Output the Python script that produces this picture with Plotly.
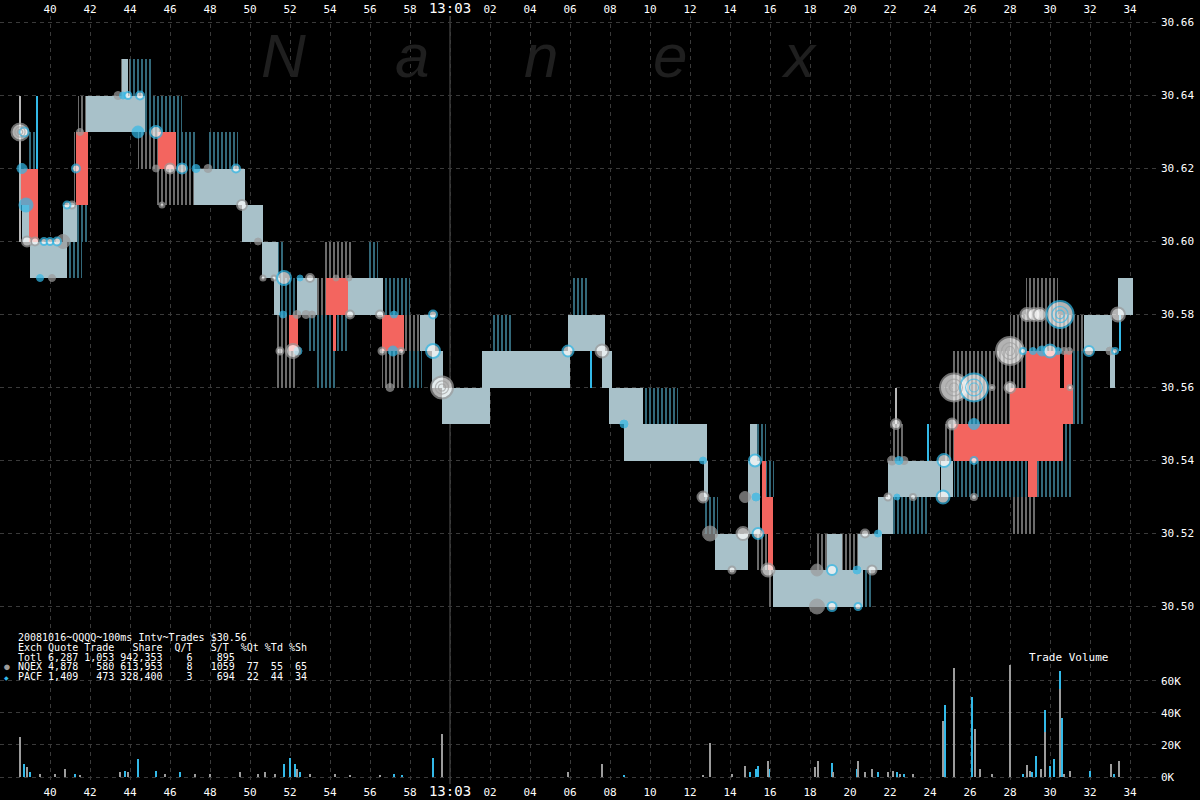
import numpy as np
import plotly.graph_objects as go

# ---------------- data ----------------
# time axis: seconds after 13:02:00
TICK_VALS = list(range(40, 95, 2))
TICK_TEXT = [("<span style='font-size:14px'>13:03</span>" if v == 60 else f"{v % 60:02d}") for v in TICK_VALS]
MINUTE_T = 60
PRICE_TICKS = [30.50, 30.52, 30.54, 30.56, 30.58, 30.60, 30.62, 30.64, 30.66]
VOL_TICKS = [0, 20, 40, 60]
VOL_TICK_TEXT = ["0K", "20K", "40K", "60K"]

# quote bands (t_start, t_end, low, high)
SOLID_BANDS = [
    (39.0, 40.85, 30.59, 30.60), (38.6, 38.95, 30.60, 30.61), (40.65, 41.35, 30.60, 30.61),
    (41.8, 44.75, 30.63, 30.64), (43.6, 43.9, 30.64, 30.65), (47.2, 49.75, 30.61, 30.62),
    (49.6, 50.65, 30.60, 30.61), (50.6, 51.4, 30.59, 30.60), (51.2, 51.5, 30.58, 30.59),
    (52.35, 53.35, 30.58, 30.59), (54.9, 56.65, 30.58, 30.59), (58.5, 59.25, 30.57, 30.58),
    (59.1, 59.65, 30.56, 30.57), (59.6, 62.0, 30.55, 30.56), (61.6, 66.0, 30.56, 30.57),
    (65.9, 67.75, 30.57, 30.58), (67.6, 68.1, 30.56, 30.57), (67.95, 69.65, 30.55, 30.56),
    (68.7, 72.85, 30.54, 30.55), (72.7, 72.9, 30.53, 30.54), (73.25, 74.9, 30.51, 30.52),
    (75.0, 75.35, 30.54, 30.55), (74.9, 75.5, 30.52, 30.54), (76.15, 80.65, 30.50, 30.51),
    (78.85, 79.6, 30.51, 30.52), (80.4, 81.6, 30.51, 30.52), (81.4, 82.15, 30.52, 30.53),
    (81.9, 84.5, 30.53, 30.54), (84.55, 85.15, 30.53, 30.54), (91.7, 93.1, 30.57, 30.58),
    (93.4, 94.15, 30.58, 30.59), (93.0, 93.25, 30.56, 30.57),
]
CYAN_BANDS = [
    (38.9, 39.3, 30.62, 30.63), (40.85, 41.6, 30.59, 30.60), (41.35, 41.9, 30.60, 30.61),
    (44.0, 45.15, 30.64, 30.65), (44.7, 46.6, 30.63, 30.64), (46.3, 47.3, 30.62, 30.63),
    (47.95, 49.4, 30.62, 30.63), (51.4, 51.65, 30.59, 30.60), (51.5, 52.35, 30.58, 30.59),
    (56.65, 58.0, 30.58, 30.59), (55.85, 56.4, 30.59, 30.60), (52.95, 54.85, 30.57, 30.58),
    (53.25, 54.3, 30.56, 30.57), (57.95, 58.6, 30.56, 30.57), (62.05, 63.15, 30.57, 30.58),
    (66.15, 66.9, 30.58, 30.59), (69.65, 71.4, 30.55, 30.56), (72.75, 73.4, 30.52, 30.53),
    (75.35, 75.8, 30.54, 30.55), (75.8, 76.2, 30.53, 30.54), (80.65, 81.1, 30.50, 30.51),
    (82.1, 83.9, 30.52, 30.53), (85.2, 88.9, 30.53, 30.54), (89.35, 91.15, 30.53, 30.54),
    (91.15, 91.75, 30.55, 30.56), (91.1, 91.7, 30.56, 30.57), (90.65, 91.15, 30.54, 30.55),
]
GRAY_BANDS = [
    (41.2, 41.5, 30.60, 30.63), (41.4, 41.8, 30.63, 30.64), (43.45, 44.0, 30.64, 30.65),
    (44.4, 45.4, 30.62, 30.63), (45.3, 47.2, 30.61, 30.62), (53.35, 53.8, 30.58, 30.59),
    (53.7, 55.05, 30.59, 30.60), (51.3, 52.35, 30.56, 30.58), (56.6, 57.65, 30.56, 30.57),
    (57.7, 58.5, 30.57, 30.58), (75.35, 75.85, 30.51, 30.52), (75.9, 76.15, 30.50, 30.51),
    (78.3, 78.85, 30.51, 30.52), (79.6, 80.4, 30.51, 30.52), (82.1, 82.65, 30.54, 30.55),
    (84.7, 85.2, 30.54, 30.55), (85.15, 88.0, 30.55, 30.57), (88.0, 88.8, 30.56, 30.58),
    (88.8, 91.65, 30.57, 30.58), (88.8, 90.4, 30.58, 30.59), (88.15, 89.35, 30.52, 30.53),
]
RED_BANDS = [
    (38.5, 39.4, 30.61, 30.62), (38.95, 39.4, 30.60, 30.61), (41.3, 41.9, 30.61, 30.63),
    (45.4, 46.3, 30.62, 30.63), (53.8, 54.9, 30.58, 30.59), (51.95, 52.4, 30.57, 30.58),
    (54.15, 54.3, 30.57, 30.58), (56.6, 57.7, 30.57, 30.58), (75.6, 75.8, 30.53, 30.54),
    (75.6, 76.15, 30.52, 30.53), (75.9, 76.15, 30.51, 30.52), (85.2, 90.65, 30.54, 30.55),
    (88.9, 89.35, 30.53, 30.54), (88.0, 91.15, 30.55, 30.56), (88.8, 90.5, 30.56, 30.57),
    (90.7, 91.1, 30.56, 30.57),
]
THIN_GRAY = [(38.5, 30.60, 30.64), (82.3, 30.55, 30.56)]
THIN_CYAN = [(39.35, 30.62, 30.64), (67.05, 30.56, 30.57), (83.9, 30.54, 30.55), (93.5, 30.57, 30.58)]

# trades (t, price, marker size px, kind) kind: G=NQEX open, C=PACF open, g=NQEX filled, c=PACF filled
TRADES = [
    (38.5, 30.63, 17, 'G'), (38.7, 30.63, 9, 'C'), (38.6, 30.62, 10, 'c'), (38.8, 30.61, 14, 'c'),
    (38.85, 30.60, 10, 'G'), (39.25, 30.60, 8, 'G'), (39.7, 30.60, 7, 'C'), (40.0, 30.60, 7, 'C'),
    (40.35, 30.60, 8, 'C'), (40.65, 30.60, 14, 'g'), (39.5, 30.59, 7, 'c'), (40.1, 30.59, 7, 'g'),
    (40.85, 30.61, 7, 'C'), (41.1, 30.61, 7, 'G'), (41.3, 30.62, 8, 'C'), (41.5, 30.63, 7, 'g'),
    (43.4, 30.64, 8, 'g'), (43.65, 30.64, 7, 'c'), (43.9, 30.64, 7, 'C'), (44.5, 30.64, 8, 'C'),
    (44.4, 30.63, 12, 'c'), (45.3, 30.63, 12, 'C'), (45.3, 30.62, 7, 'g'), (46.0, 30.62, 10, 'G'),
    (46.6, 30.62, 10, 'C'), (47.3, 30.62, 8, 'c'), (47.9, 30.62, 8, 'g'), (49.3, 30.62, 8, 'C'),
    (45.6, 30.61, 5, 'G'), (49.6, 30.61, 10, 'G'), (50.4, 30.60, 7, 'g'),
    (50.65, 30.59, 5, 'G'), (51.2, 30.59, 5, 'G'), (51.7, 30.59, 14, 'C'), (52.5, 30.59, 6, 'c'),
    (53.0, 30.59, 8, 'G'), (54.3, 30.59, 6, 'g'), (54.95, 30.59, 6, 'g'),
    (51.65, 30.58, 7, 'c'), (52.35, 30.58, 8, 'g'), (52.8, 30.58, 8, 'g'), (53.1, 30.58, 7, 'g'),
    (55.0, 30.58, 8, 'G'), (56.5, 30.58, 8, 'G'), (57.2, 30.58, 7, 'c'), (59.15, 30.58, 8, 'C'),
    (51.5, 30.57, 7, 'G'), (52.15, 30.57, 14, 'G'), (52.4, 30.57, 8, 'c'), (56.6, 30.57, 7, 'G'),
    (57.15, 30.57, 10, 'c'), (57.55, 30.57, 6, 'G'), (59.15, 30.57, 14, 'C'),
    (57.0, 30.56, 8, 'g'), (59.6, 30.56, 22, 'G'),
    (65.9, 30.57, 11, 'C'), (67.6, 30.57, 13, 'G'), (68.7, 30.55, 8, 'c'), (72.65, 30.54, 7, 'c'),
    (72.65, 30.53, 11, 'G'), (73.0, 30.52, 15, 'g'), (74.65, 30.52, 13, 'G'), (75.4, 30.52, 11, 'C'),
    (74.1, 30.51, 7, 'G'), (75.9, 30.51, 13, 'G'), (78.35, 30.51, 12, 'g'), (79.1, 30.51, 10, 'C'),
    (80.35, 30.51, 8, 'c'), (81.1, 30.51, 9, 'G'), (75.25, 30.54, 12, 'C'), (74.75, 30.53, 11, 'g'),
    (75.3, 30.53, 8, 'c'), (78.35, 30.50, 15, 'g'), (79.1, 30.50, 9, 'C'), (80.4, 30.50, 7, 'C'),
    (80.75, 30.52, 8, 'G'), (81.4, 30.52, 7, 'c'), (81.9, 30.53, 7, 'G'), (82.35, 30.53, 6, 'c'),
    (82.1, 30.54, 9, 'g'), (82.45, 30.54, 8, 'c'), (82.7, 30.54, 8, 'g'), (82.3, 30.55, 10, 'G'),
    (84.7, 30.54, 13, 'C'), (84.65, 30.53, 13, 'C'), (83.15, 30.53, 6, 'G'), (86.2, 30.53, 6, 'G'),
    (86.2, 30.54, 7, 'C'), (85.1, 30.55, 11, 'G'), (86.2, 30.55, 11, 'c'),
    (85.2, 30.56, 28, 'G'), (86.2, 30.56, 28, 'C'), (87.1, 30.56, 5, 'G'), (88.0, 30.56, 11, 'G'),
    (91.0, 30.56, 5, 'G'), (88.0, 30.57, 28, 'G'), (88.65, 30.57, 6, 'C'), (89.15, 30.57, 7, 'c'),
    (89.6, 30.57, 10, 'c'), (90.0, 30.57, 13, 'C'), (90.4, 30.57, 7, 'c'), (90.7, 30.57, 7, 'g'),
    (90.95, 30.57, 7, 'g'), (91.95, 30.57, 10, 'C'), (93.0, 30.57, 8, 'g'), (93.25, 30.57, 6, 'C'),
    (88.85, 30.58, 13, 'G'), (89.2, 30.58, 13, 'G'), (89.5, 30.58, 13, 'G'), (90.5, 30.58, 27, 'C'),
    (93.4, 30.58, 14, 'G'),
]

# trade volume per 100ms interval (t, thousands of shares)
VOL_NQEX = [
    (38.5, 25), (38.85, 6), (39.5, 2), (40.25, 2), (40.75, 5), (41.5, 1.5), (43.5, 3), (43.9, 3),
    (45.75, 2), (47.25, 2), (48.0, 2), (49.5, 3), (50.4, 2), (50.75, 3), (51.25, 2), (52.35, 5),
    (53.0, 2), (54.25, 2), (55.0, 1.5), (56.5, 1.5), (59.6, 27), (65.9, 3), (67.6, 8), (72.65, 1.5),
    (73.0, 21), (74.1, 2), (74.75, 7), (75.9, 10), (78.25, 6), (78.4, 10), (79.15, 3), (80.4, 10),
    (80.75, 3), (81.1, 5), (81.9, 3), (82.15, 4), (82.5, 2), (83.15, 2), (84.65, 35), (85.2, 68),
    (86.25, 30), (86.5, 5), (87.1, 2), (88.0, 70), (88.85, 7.5), (89.0, 4), (89.55, 5), (89.75, 28),
    (90.5, 55), (90.7, 2), (91.0, 4), (93.05, 8), (93.45, 10),
]
VOL_PACF = [
    (38.7, 8), (39.0, 3), (41.25, 2), (43.75, 4), (44.4, 11), (45.3, 4), (46.5, 3), (51.7, 8),
    (52.0, 12), (52.25, 8), (52.5, 3), (57.2, 2), (57.6, 1), (59.15, 12), (68.7, 1), (75.0, 3),
    (75.3, 5), (75.4, 7), (75.95, 5), (79.1, 9), (80.35, 5), (81.4, 3), (82.35, 3), (82.7, 2),
    (84.75, 45), (86.1, 50), (88.65, 2), (89.1, 3), (89.3, 13), (89.75, 42), (90.0, 7), (90.2, 11),
    (90.5, 66), (90.6, 37), (92.0, 4), (93.2, 2),
]

LEGEND_LINES = [
    "20081016~QQQQ~100ms Intv~Trades $30.56",
    "Exch Quote Trade   Share  Q/T   S/T  %Qt %Td %Sh",
    "Totl 6,287 1,053 942,353    6    895",
    "NQEX 4,878   580 613,953    8   1059  77  55  65",
    "PACF 1,409   473 328,400    3    694  22  44  34",
]

# ---------------- styling ----------------
W, H = 1200, 800
M_L, M_R, M_T, M_B = 0, 40, 16, 16
PX_PER_S = 20.0
T_LEFT = 37.5
PLOT_W = W - M_L - M_R
PLOT_H = H - M_T - M_B
SPLIT_PX = 640
PX_PER_DOLLAR = 3650.0
Y_3066 = 22.5
VOL_ZERO_PX = 777
PX_PER_K = 1.605

x_range = [T_LEFT, T_LEFT + PLOT_W / PX_PER_S]
price_top = 30.66 + (Y_3066 - M_T) / PX_PER_DOLLAR
price_bot = 30.66 - (SPLIT_PX - Y_3066) / PX_PER_DOLLAR
vol_top = (VOL_ZERO_PX - SPLIT_PX) / PX_PER_K
vol_bot = -(H - M_B - VOL_ZERO_PX) / PX_PER_K
split_frac = (H - M_B - SPLIT_PX) / PLOT_H

CYAN = "#33b9e8"
GRAYC = "#9c9c9c"
RED = "#f3655f"
MONO = "DejaVu Sans Mono"


def band_trace(bands, marker):
    a = np.array(bands, dtype=float)
    return go.Bar(x=(a[:, 0] + a[:, 1]) / 2, width=a[:, 1] - a[:, 0], base=a[:, 2], y=a[:, 3] - a[:, 2],
                  marker=marker, xaxis="x", yaxis="y", hoverinfo="skip")


def thin_trace(lines, color):
    a = np.array(lines, dtype=float)
    return go.Bar(x=a[:, 0], width=[0.06] * len(a), base=a[:, 1], y=a[:, 2] - a[:, 1],
                  marker=dict(color=color, line=dict(width=0)), xaxis="x", yaxis="y", hoverinfo="skip")


fig = go.Figure()
fig.add_trace(band_trace(GRAY_BANDS, dict(color="black", line=dict(width=0),
                         pattern=dict(shape="|", fgcolor="#d6d6d6", bgcolor="black", size=4, solidity=0.5))))
fig.add_trace(band_trace(CYAN_BANDS, dict(color="black", line=dict(width=0),
                         pattern=dict(shape="|", fgcolor="#66d0f2", bgcolor="black", size=4, solidity=0.5))))
fig.add_trace(band_trace(SOLID_BANDS, dict(color="#a8c1c9", line=dict(width=0))))
fig.add_trace(band_trace(RED_BANDS, dict(color=RED, line=dict(width=0))))
fig.add_trace(thin_trace(THIN_GRAY, "#b8b8b8"))
fig.add_trace(thin_trace(THIN_CYAN, CYAN))

# trades
kind_style = {
    'g': dict(color=GRAYC, line=dict(color=GRAYC, width=1)),
    'c': dict(color=CYAN, line=dict(color=CYAN, width=1)),
    'G': dict(color="white", line=dict(color=GRAYC, width=2)),
    'C': dict(color="white", line=dict(color=CYAN, width=2)),
}
for k in ['g', 'c', 'G', 'C']:
    sel = [tr for tr in TRADES if tr[3] == k]
    fig.add_trace(go.Scatter(x=[s[0] for s in sel], y=[s[1] for s in sel], mode="markers",
                             marker=dict(size=[s[2] for s in sel], symbol="circle", **kind_style[k]),
                             xaxis="x", yaxis="y", hoverinfo="skip"))
# concentric rings for large prints
for k, col in [('G', GRAYC), ('C', CYAN)]:
    sel = [tr for tr in TRADES if tr[3] == k and tr[2] >= 16]
    for frac in (0.6, 0.32):
        fig.add_trace(go.Scatter(x=[s[0] for s in sel], y=[s[1] for s in sel], mode="markers",
                                 marker=dict(size=[s[2] * frac for s in sel], symbol="circle-open",
                                             color=col, line=dict(width=1.2)),
                                 xaxis="x", yaxis="y", hoverinfo="skip"))

# volume
vp = np.array(VOL_PACF)
vn = np.array(VOL_NQEX)
fig.add_trace(go.Bar(x=vp[:, 0], y=vp[:, 1], width=[0.12] * len(vp), marker=dict(color=CYAN, line=dict(width=0)),
                     xaxis="x2", yaxis="y2", hoverinfo="skip"))
fig.add_trace(go.Bar(x=vn[:, 0], y=vn[:, 1], width=[0.12] * len(vn), marker=dict(color=GRAYC, line=dict(width=0)),
                     xaxis="x2", yaxis="y2", hoverinfo="skip"))

grid = dict(showgrid=True, gridcolor="#3a3a3a", griddash="4px,4px", gridwidth=1, zeroline=False,
            showline=False, ticks="", automargin=False)
fig.update_layout(
    width=W, height=H, margin=dict(l=M_L, r=M_R, t=M_T, b=M_B, autoexpand=False),
    paper_bgcolor="black", plot_bgcolor="black", showlegend=False, barmode="overlay", bargap=0,
    xaxis=dict(domain=[0, 1], anchor="y", side="top", range=x_range, tickvals=TICK_VALS, ticktext=TICK_TEXT,
               tickfont=dict(color="white", size=11, family=MONO), **grid),
    xaxis2=dict(domain=[0, 1], anchor="y2", side="bottom", range=x_range, matches="x", tickvals=TICK_VALS,
                ticktext=TICK_TEXT, tickfont=dict(color="white", size=11, family=MONO), **grid),
    yaxis=dict(domain=[split_frac, 1], anchor="x", side="right", range=[price_bot, price_top],
               tickvals=PRICE_TICKS, ticktext=[f"{p:.2f}" for p in PRICE_TICKS],
               tickfont=dict(color="white", size=11, family=MONO), **grid),
    yaxis2=dict(domain=[0, split_frac], anchor="x2", side="right", range=[vol_bot, vol_top],
                tickvals=VOL_TICKS, ticktext=VOL_TICK_TEXT,
                tickfont=dict(color="white", size=11, family=MONO), **grid),
)

# minute marker line
fig.add_shape(type="line", xref="x", yref="paper", x0=MINUTE_T, x1=MINUTE_T, y0=0, y1=1.0,
              line=dict(color="#555555", width=1), layer="below")

# watermark
for i, ch in enumerate("Nanex"):
    fig.add_annotation(xref="paper", yref="paper", x=(283 + 129 * i) / PLOT_W, y=(H - M_B - 55) / PLOT_H,
                       text=ch, showarrow=False, xanchor="center", yanchor="middle",
                       font=dict(size=62, color="#1f1f1f", family="Liberation Sans", style="italic"))

# info block
for i, line in enumerate(LEGEND_LINES):
    py = 637.7 + 9.65 * i
    fig.add_annotation(xref="paper", yref="paper", x=16 / PLOT_W, y=(H - M_B - py) / PLOT_H,
                       text=line.replace(" ", "\u00a0"), showarrow=False, xanchor="left", yanchor="middle",
                       font=dict(size=10, color="white", family=MONO))
fig.add_annotation(xref="paper", yref="paper", x=7 / PLOT_W, y=(H - M_B - 666) / PLOT_H, text="●",
                   showarrow=False, xanchor="center", yanchor="middle", font=dict(size=13, color=GRAYC))
fig.add_annotation(xref="paper", yref="paper", x=6.5 / PLOT_W, y=(H - M_B - 678) / PLOT_H, text="◆",
                   showarrow=False, xanchor="center", yanchor="middle", font=dict(size=6, color=CYAN))
fig.add_annotation(xref="paper", yref="paper", x=1068 / PLOT_W, y=(H - M_B - 657) / PLOT_H, text="Trade Volume",
                   showarrow=False, xanchor="center", yanchor="middle", font=dict(size=11, color="white", family=MONO))

fig.write_html("out.html", config={"displayModeBar": False, "staticPlot": True},
               post_script="document.body.style.margin='0px';document.body.style.background='black';")
